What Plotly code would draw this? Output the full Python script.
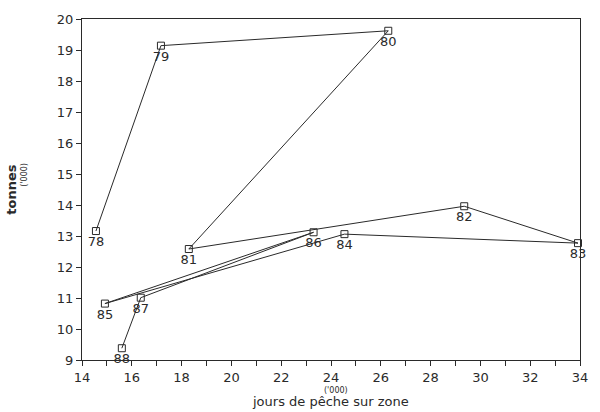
import plotly.graph_objects as go

years = ["78", "79", "80", "81", "82", "83", "84", "85", "86", "87", "88"]
effort = [14.56, 17.17, 26.3, 18.29, 29.35, 33.92, 24.54, 14.92, 23.3, 16.36, 15.6]
catch = [13.16, 19.14, 19.62, 12.58, 13.96, 12.77, 13.06, 10.82, 13.12, 11.01, 9.38]

ink = "#2a2a2a"
font = "DejaVu Sans, Liberation Sans, sans-serif"

W, H = 600, 412
L, R, T, B = 82, 19, 16, 52
pw, ph = W - L - R, H - T - B


def px(x):  # page x -> paper
    return (x - L) / pw


def py(y):  # page y -> paper
    return (H - B - y) / ph


fig = go.Figure()
fig.add_trace(go.Scatter(
    x=effort, y=catch, mode="lines+markers+text",
    text=years, textposition="bottom center",
    textfont=dict(family=font, size=13, color=ink),
    line=dict(color=ink, width=1),
    marker=dict(symbol="square-open", size=7, color=ink, line=dict(width=1)),
    showlegend=False, cliponaxis=False,
))

fig.update_layout(
    width=W, height=H,
    margin=dict(l=L, r=R, t=T, b=B),
    paper_bgcolor="white", plot_bgcolor="white",
    font=dict(family=font, size=13, color=ink),
)
fig.update_xaxes(
    range=[14, 34], dtick=2, tick0=14, showgrid=False, zeroline=False,
    showline=True, linecolor=ink, linewidth=1, mirror=True,
    ticks="outside", ticklen=5, tickcolor=ink,
    minor=dict(dtick=1, ticks="outside", ticklen=5, tickcolor=ink, showgrid=False),
    tickfont=dict(size=13, color=ink),
)
fig.update_yaxes(
    range=[9, 20], dtick=1, showgrid=False, zeroline=False,
    showline=True, linecolor=ink, linewidth=1, mirror=True,
    ticks="outside", ticklen=5, tickcolor=ink,
    tickfont=dict(size=13, color=ink),
)

fig.add_annotation(text="jours de pêche sur zone", xref="paper", yref="paper",
                   x=px(331), y=py(402), showarrow=False,
                   font=dict(size=13, color=ink), xanchor="center", yanchor="middle")
fig.add_annotation(text="('000)", xref="paper", yref="paper",
                   x=px(337), y=py(391), showarrow=False,
                   font=dict(size=8, color=ink), xanchor="center", yanchor="middle")
fig.add_annotation(text="<b>tonnes</b>", xref="paper", yref="paper",
                   x=px(11), y=py(188), showarrow=False, textangle=-90,
                   font=dict(size=13, color=ink), xanchor="center", yanchor="middle")
fig.add_annotation(text="('000)", xref="paper", yref="paper",
                   x=px(25), y=py(173), showarrow=False, textangle=-90,
                   font=dict(size=8, color=ink), xanchor="center", yanchor="middle")

fig.write_html("out.html", config={"displayModeBar": False},
               post_script="document.body.style.margin='0';document.body.style.overflow='hidden';")
